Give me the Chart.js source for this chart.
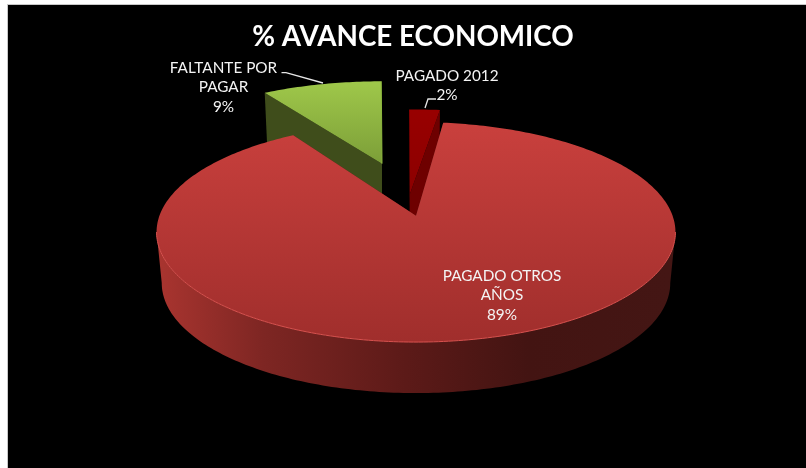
<!DOCTYPE html>
<html lang="es">
<head>
<meta charset="utf-8">
<title>% AVANCE ECONOMICO</title>
<style>
html,body{margin:0;padding:0;background:#fff;overflow:hidden;width:806px;height:468px}
#c{position:absolute;left:8px;top:5px;background:#000;outline:1px solid #c8c8c8}
</style>
<script src="https://cdn.jsdelivr.net/npm/chart.js@4"></script>
</head>
<body>
<canvas id="c" width="798" height="463"></canvas>
<script>
const chartTitle = '% AVANCE ECONOMICO';
const categories = ['PAGADO OTROS AÑOS', 'FALTANTE POR PAGAR', 'PAGADO 2012'];
const percentValues = [89, 9, 2];
const labelLines = [['PAGADO OTROS', 'AÑOS', '89%'], ['FALTANTE POR', 'PAGAR', '9%'], ['PAGADO 2012', '2%']];

// view of the tilted, exploded pie (styles and placement only)
const tilt = {a: 1.5425, b: 0.6467, k: 0.149, depth: 51, shrink: 0.98};
const slices = [
  {dx: 0,   dy: 0,   sx: 1,    sy: 1,    top: ['#C9403D', '#A02E2C'], cut: '#5a1a18', rim: '#D8524F'},
  {dx: -34, dy: -52, sx: 0.955, sy: 0.88, top: ['#9FC84A', '#7C9E38'], cut: '#3F4D1B', rim: '#8DB83E'},
  {dx: -6,  dy: -22, sx: 1.1,  sy: 0.9,  top: ['#980000', '#8C0000'], cut: '#6E0000', rim: null}
];
const apexShift = {x: 3, y: -7};
const drawOrder = [1, 2, 0];
const labelStyle = {font: '15.3px Lato', lineHeight: 19.3, color: '#f4f4f4'};
const labelAnchors = [{x: 494, y: 271}, {x: 215.5, y: 63}, {x: 439, y: 71}];
const leaders = [null, [[273.5, 67.7], [278, 67.7], [315, 78]], [[417, 103], [420, 94], [428, 94]]];

function pt(arc, s, ang, r, lower) {
  const R = arc.outerRadius;
  const u = Math.cos(ang) * r, v = Math.sin(ang) * r;
  const w = 1 - tilt.k * v;
  const cx = arc.x + apexShift.x + s.dx, cy = arc.y + apexShift.y + s.dy;
  let x = tilt.a * R * s.sx * u / w;
  let y = tilt.b * R * s.sy * v / w;
  if (lower) {
    x *= tilt.shrink;
    y += tilt.depth;
  }
  return [cx + x, cy + y];
}
function sampled(arc, s, a0, a1, lower) {
  const n = Math.max(2, Math.ceil(Math.abs(a1 - a0) * 60)), out = [];
  for (let i = 0; i <= n; i++) out.push(pt(arc, s, a0 + (a1 - a0) * i / n, 1, lower));
  return out;
}
function trace(ctx, pts) {
  ctx.beginPath();
  pts.forEach((p, i) => i ? ctx.lineTo(p[0], p[1]) : ctx.moveTo(p[0], p[1]));
  ctx.closePath();
}
function drawSlice(ctx, arc, s) {
  const a0 = arc.startAngle, a1 = arc.endAngle;
  // radial cut walls
  [a0, a1].forEach(a => {
    trace(ctx, [pt(arc, s, a, 0, false), pt(arc, s, a, 1, false), pt(arc, s, a, 1, true), pt(arc, s, a, 0, true)]);
    ctx.fillStyle = s.cut; ctx.fill();
  });
  // outer wall, between the two points where the rim is widest on screen
  const side = Math.asin(tilt.k);
  const from = Math.max(a0, side), to = Math.min(a1, Math.PI - side);
  if (to > from) {
    const g = ctx.createLinearGradient(arc.x + apexShift.x - 255, 0, arc.x + apexShift.x + 255, 0);
    g.addColorStop(0, '#A8342F'); g.addColorStop(0.2, '#7E2623'); g.addColorStop(0.48, '#5C1A18');
    g.addColorStop(0.72, '#431412'); g.addColorStop(1, '#441614');
    trace(ctx, sampled(arc, s, from, to, false).concat(sampled(arc, s, to, from, true)));
    ctx.fillStyle = g; ctx.fill();
  }
  // top face
  const rim = sampled(arc, s, a0, a1, false);
  const apex = pt(arc, s, a0, 0, false);
  const ys = rim.map(p => p[1]).concat(apex[1]);
  const g2 = ctx.createLinearGradient(0, Math.min(...ys), 0, Math.max(...ys));
  g2.addColorStop(0, s.top[0]); g2.addColorStop(1, s.top[1]);
  trace(ctx, [apex].concat(rim));
  ctx.fillStyle = g2; ctx.fill();
  if (s.rim) {
    const visible = to > from ? sampled(arc, s, from, to, false) : [apex, pt(arc, s, a1, 1, false)];
    ctx.beginPath();
    visible.forEach((p, i) => i ? ctx.lineTo(p[0], p[1]) : ctx.moveTo(p[0], p[1]));
    ctx.strokeStyle = s.rim; ctx.lineWidth = 1; ctx.stroke();
  }
}
const tiltedPie = {
  id: 'tiltedPie',
  beforeDatasetDraw(chart, args) {
    const ctx = chart.ctx, arcs = chart.getDatasetMeta(args.index).data;
    ctx.save();
    drawOrder.forEach(i => drawSlice(ctx, arcs[i], slices[i]));
    ctx.restore();
    return false;
  },
  afterDatasetsDraw(chart) {
    const ctx = chart.ctx;
    ctx.save();
    ctx.font = labelStyle.font; ctx.fillStyle = labelStyle.color;
    ctx.textAlign = 'center'; ctx.textBaseline = 'middle';
    labelLines.forEach((lines, i) => lines.forEach((t, j) =>
      ctx.fillText(t, labelAnchors[i].x, labelAnchors[i].y + j * labelStyle.lineHeight)));
    ctx.strokeStyle = '#e6e6e6'; ctx.lineWidth = 1.3;
    leaders.forEach(l => {
      if (!l) return;
      ctx.beginPath();
      l.forEach((p, i) => i ? ctx.lineTo(p[0], p[1]) : ctx.moveTo(p[0], p[1]));
      ctx.stroke();
    });
    ctx.restore();
  }
};
new Chart(document.getElementById('c'), {
  type: 'pie',
  data: {labels: categories, datasets: [{data: percentValues, borderWidth: 0}]},
  options: {
    responsive: false,
    animation: false,
    rotation: 7,
    layout: {padding: {left: 12, bottom: 79}},
    plugins: {
      legend: {display: false},
      tooltip: {enabled: false},
      title: {display: true, text: chartTitle, color: '#fff',
        font: {family: 'Lato', size: 27.8, weight: 'bold'}, padding: {top: 15, bottom: 3}}
    }
  },
  plugins: [tiltedPie]
});
</script>
</body>
</html>
